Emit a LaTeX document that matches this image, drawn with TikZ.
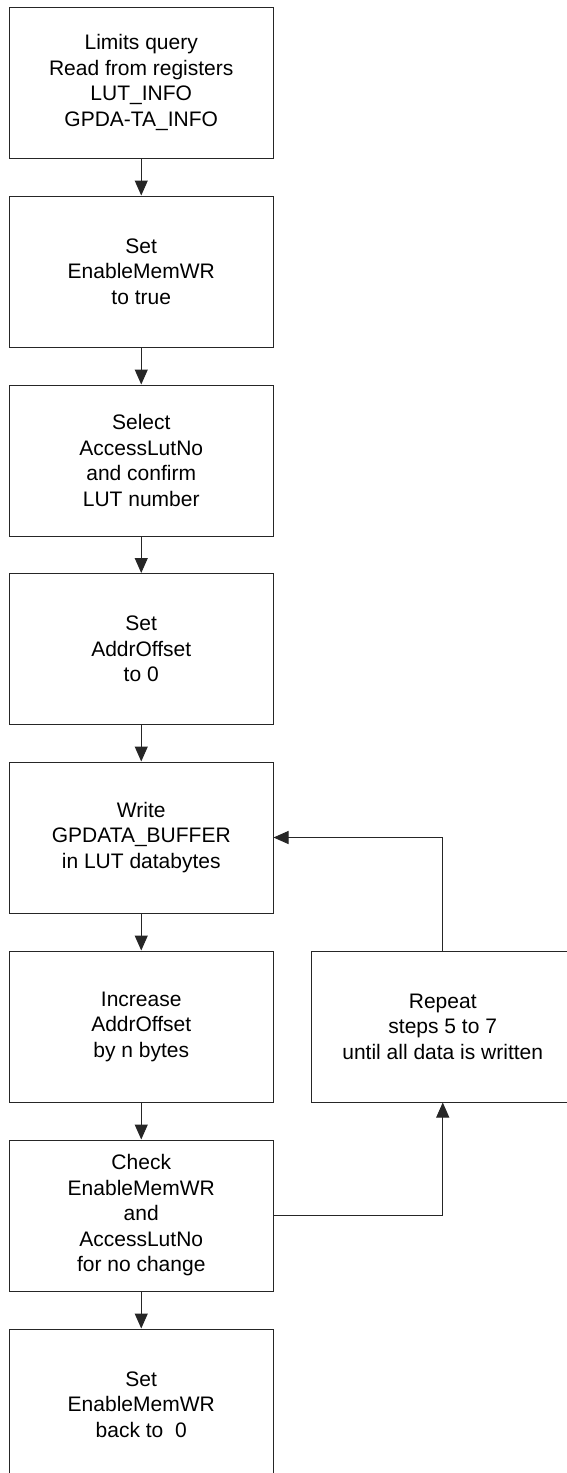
\documentclass[tikz,border=0pt]{standalone}
\usepackage{fontspec}
\setmainfont{Liberation Sans}
\usetikzlibrary{arrows.meta}
\begin{document}
\begin{tikzpicture}[x=1pt,y=-1pt,
  stepbox/.style={draw=black!85, line width=1pt, rectangle, minimum width=263.5pt, minimum height=151pt, inner sep=0pt, align=center, font=\fontsize{21}{25.5}\selectfont},
  flow/.style={draw=black!85, line width=1pt, -{Triangle[length=15pt,width=13pt]}}]
\useasboundingbox (0,0) rectangle (567,1473);
\clip (0,0) rectangle (567,1473);
\node[stepbox] (b1) at (141.25,82.5) {Limits query\\Read from registers\\LUT\_INFO\\GPDA-TA\_INFO};
\node[stepbox] (b2) at (141.25,271.5) {Set\\EnableMemWR\\to true};
\node[stepbox] (b3) at (141.25,460.5) {Select\\AccessLutNo\\and confirm\\LUT number};
\node[stepbox] (b4) at (141.25,649) {Set\\AddrOffset\\to 0};
\node[stepbox] (b5) at (141.25,837.5) {Write\\GPDATA\_BUFFER\\in LUT databytes};
\node[stepbox] (b6) at (141.25,1026.5) {Increase\\AddrOffset\\by n bytes};
\node[stepbox] (b7) at (141.25,1215.5) {Check\\EnableMemWR\\and\\AccessLutNo\\for no change};
\node[stepbox] (b8) at (141.25,1404.5) {Set\\EnableMemWR\\back to\ \ 0};
\node[stepbox] (r) at (442.75,1026.5) {Repeat\\steps 5 to 7\\until all data is written};
\draw[flow] (b1) -- (b2);
\draw[flow] (b2) -- (b3);
\draw[flow] (b3) -- (b4);
\draw[flow] (b4) -- (b5);
\draw[flow] (b5) -- (b6);
\draw[flow] (b6) -- (b7);
\draw[flow] (b7) -- (b8);
\draw[flow] (r.north) |- (b5.east);
\draw[flow] (b7.east) -| (r.south);
\end{tikzpicture}
\end{document}
